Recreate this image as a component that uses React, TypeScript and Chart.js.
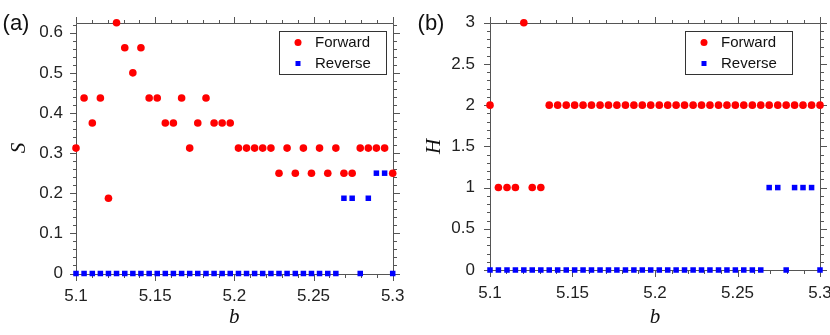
import React, { useEffect, useRef } from 'react';
import { Chart, registerables } from 'chart.js';

Chart.register(...registerables);

// b values (40 samples between 5.1 and 5.3)
const bValues = [
  5.1, 5.1051, 5.1103, 5.1154, 5.1205, 5.1256, 5.1308, 5.1359, 5.141, 5.1462,
  5.1513, 5.1564, 5.1615, 5.1667, 5.1718, 5.1769, 5.1821, 5.1872, 5.1923, 5.1974,
  5.2026, 5.2077, 5.2128, 5.2179, 5.2231, 5.2282, 5.2333, 5.2385, 5.2436, 5.2487,
  5.2538, 5.259, 5.2641, 5.2692, 5.2744, 5.2795, 5.2846, 5.2897, 5.2949, 5.3,
];

const sForward = [
  0.3125, 0.4375, 0.375, 0.4375, 0.1875, 0.625, 0.5625, 0.5, 0.5625, 0.4375,
  0.4375, 0.375, 0.375, 0.4375, 0.3125, 0.375, 0.4375, 0.375, 0.375, 0.375,
  0.3125, 0.3125, 0.3125, 0.3125, 0.3125, 0.25, 0.3125, 0.25, 0.3125, 0.25,
  0.3125, 0.25, 0.3125, 0.25, 0.25, 0.3125, 0.3125, 0.3125, 0.3125, 0.25,
];

const sReverse = [
  0, 0, 0, 0, 0, 0, 0, 0, 0, 0,
  0, 0, 0, 0, 0, 0, 0, 0, 0, 0,
  0, 0, 0, 0, 0, 0, 0, 0, 0, 0,
  0, 0, 0, 0.1875, 0.1875, 0, 0.1875, 0.25, 0.25, 0,
];

const hForward = [
  2, 1, 1, 1, 3, 1, 1, 2, 2, 2,
  2, 2, 2, 2, 2, 2, 2, 2, 2, 2,
  2, 2, 2, 2, 2, 2, 2, 2, 2, 2,
  2, 2, 2, 2, 2, 2, 2, 2, 2, 2,
];

const hReverse = [
  0, 0, 0, 0, 0, 0, 0, 0, 0, 0,
  0, 0, 0, 0, 0, 0, 0, 0, 0, 0,
  0, 0, 0, 0, 0, 0, 0, 0, 0, 0,
  0, 0, 0, 1, 1, 0, 1, 1, 1, 0,
];

const xMajorTicks = [5.1, 5.15, 5.2, 5.25, 5.3];
const xTickLabels = ['5.1', '5.15', '5.2', '5.25', '5.3'];
const sMajorTicks = [0, 0.1, 0.2, 0.3, 0.4, 0.5, 0.6];
const sTickLabels = ['0', '0.1', '0.2', '0.3', '0.4', '0.5', '0.6'];
const hMajorTicks = [0, 0.5, 1, 1.5, 2, 2.5, 3];
const hTickLabels = ['0', '0.5', '1', '1.5', '2', '2.5', '3'];

const SANS = '"Liberation Sans", Arial, Helvetica, sans-serif';
const SERIF = '"Liberation Serif", "Times New Roman", serif';
const AXIS_COLOR = '#555';
const TEXT_COLOR = '#222';

function labelFor(ticks: number[], labels: string[], v: number) {
  const i = ticks.findIndex((t) => Math.abs(t - v) < 1e-9);
  return i >= 0 ? labels[i] : '';
}

const decorPlugin = {
  id: 'decor',
  beforeDatasetsDraw(chart: any, _args: any, opts: any) {
    const { ctx, chartArea } = chart;
    const xs = chart.scales.x;
    const ys = chart.scales.y;
    const { left, right, top, bottom } = chartArea;
    ctx.save();
    ctx.strokeStyle = AXIS_COLOR;
    ctx.lineWidth = 1;
    const L = Math.round(left) + 0.5;
    const R = Math.round(right) + 0.5;
    const T = Math.round(top) + 0.5;
    const B = Math.round(bottom) + 0.5;
    ctx.beginPath();
    ctx.rect(L, T, R - L, B - T);
    ctx.stroke();
    const major = 6.5;
    const minor = 3.5;
    ctx.beginPath();
    // x ticks
    const nx = Math.round((xs.max - xs.min) / opts.minorX);
    for (let k = 0; k <= nx; k++) {
      const v = xs.min + k * opts.minorX;
      const isMajor = opts.xMajor.some((t: number) => Math.abs(t - v) < 1e-6);
      const len = isMajor ? major : minor;
      const px = Math.round(xs.getPixelForValue(v)) + 0.5;
      ctx.moveTo(px, B);
      ctx.lineTo(px, B + len);
      ctx.moveTo(px, T);
      ctx.lineTo(px, T - len);
    }
    // y ticks
    const ny = Math.floor((ys.max - ys.min) / opts.minorY + 1e-6);
    for (let k = 0; k <= ny; k++) {
      const v = ys.min + k * opts.minorY;
      const isMajor = opts.yMajor.some((t: number) => Math.abs(t - v) < 1e-6);
      const len = isMajor ? major : minor;
      const py = Math.round(ys.getPixelForValue(v)) + 0.5;
      ctx.moveTo(L, py);
      ctx.lineTo(L - len, py);
      ctx.moveTo(R, py);
      ctx.lineTo(R + len, py);
    }
    ctx.stroke();
    ctx.restore();
  },
  afterDraw(chart: any, _args: any, opts: any) {
    const { ctx } = chart;
    ctx.save();
    // panel label
    ctx.fillStyle = '#111';
    ctx.font = `22px ${SANS}`;
    ctx.textAlign = 'center';
    ctx.textBaseline = 'middle';
    ctx.fillText(opts.panelLabel, opts.labelX, opts.labelY);
    // legend box
    const bx = Math.round(opts.legendLeft) + 0.5;
    const by = Math.round(opts.legendTop) + 0.5;
    ctx.fillStyle = '#fff';
    ctx.fillRect(bx, by, opts.legendWidth, opts.legendHeight);
    ctx.strokeStyle = '#333';
    ctx.lineWidth = 1;
    ctx.strokeRect(bx, by, opts.legendWidth, opts.legendHeight);
    ctx.font = `15px ${SANS}`;
    ctx.textAlign = 'left';
    chart.data.datasets.forEach((ds: any, i: number) => {
      const cy = opts.legendTop + 11.5 + i * 21;
      const cx = opts.legendLeft + 19;
      ctx.fillStyle = ds.backgroundColor;
      if (ds.pointStyle === 'rect') {
        ctx.fillRect(cx - 2.5, cy - 2.5, 5, 5);
      } else {
        ctx.beginPath();
        ctx.arc(cx, cy, 3.5, 0, Math.PI * 2);
        ctx.fill();
      }
      ctx.fillStyle = '#111';
      ctx.fillText(ds.label, opts.legendLeft + 36, cy + 0.5);
    });
    ctx.restore();
  },
};

function makeConfig(p: {
  forward: number[];
  reverse: number[];
  yMax: number;
  yMajor: number[];
  yLabels: string[];
  yTitle: string;
  minorY: number;
  yWidth: number;
  xHeight: number;
  padRight: number;
  yPad: number;
  panelLabel: string;
  legendLeft: number;
}) {
  return {
    type: 'scatter' as const,
    data: {
      datasets: [
        {
          label: 'Forward',
          data: bValues.map((b, i) => ({ x: b, y: p.forward[i] })),
          pointStyle: 'circle',
          pointRadius: 3.8,
          pointHoverRadius: 3.8,
          backgroundColor: '#ff0000',
          pointBorderWidth: 0,
          borderWidth: 0,
          showLine: false,
          clip: false,
        },
        {
          label: 'Reverse',
          data: bValues.map((b, i) => ({ x: b, y: p.reverse[i] })),
          pointStyle: 'rect',
          pointRadius: 3.9,
          pointHoverRadius: 3.9,
          backgroundColor: '#0000ff',
          pointBorderWidth: 0,
          borderWidth: 0,
          showLine: false,
          clip: false,
        },
      ],
    },
    options: {
      responsive: false,
      animation: false,
      events: [],
      layout: { padding: { left: 0, right: p.padRight, top: 22.7, bottom: 0 } },
      scales: {
        x: {
          type: 'linear',
          min: 5.1,
          max: 5.3,
          afterBuildTicks: (s: any) => {
            s.ticks = xMajorTicks.map((v) => ({ value: v }));
          },
          afterFit: (s: any) => {
            s.height = p.xHeight;
            s.paddingLeft = 0;
            s.paddingRight = 0;
          },
          ticks: {
            autoSkip: false,
            maxRotation: 0,
            padding: 13,
            color: TEXT_COLOR,
            font: { family: SANS, size: 17 },
            callback: (v: number) => labelFor(xMajorTicks, xTickLabels, v),
          },
          grid: { display: false, drawTicks: false },
          border: { display: false },
          title: {
            display: true,
            text: 'b',
            color: '#111',
            font: { family: SERIF, size: 21, style: 'italic' },
            padding: { top: 0, bottom: 5 },
          },
        },
        y: {
          type: 'linear',
          min: 0,
          max: p.yMax,
          afterBuildTicks: (s: any) => {
            s.ticks = p.yMajor.map((v) => ({ value: v }));
          },
          afterFit: (s: any) => {
            s.width = p.yWidth;
            s.paddingTop = 0;
            s.paddingBottom = 0;
          },
          ticks: {
            autoSkip: false,
            padding: p.yPad,
            color: TEXT_COLOR,
            font: { family: SANS, size: 17 },
            callback: (v: number) => labelFor(p.yMajor, p.yLabels, v),
          },
          grid: { display: false, drawTicks: false },
          border: { display: false },
          title: {
            display: true,
            text: p.yTitle,
            color: '#111',
            font: { family: SERIF, size: 21, style: 'italic' },
            padding: { top: 7, bottom: 0 },
          },
        },
      },
      plugins: {
        legend: { display: false },
        tooltip: { enabled: false },
        decor: {
          panelLabel: p.panelLabel,
          labelX: 16,
          labelY: 24,
          legendLeft: p.legendLeft,
          legendTop: 31,
          legendWidth: 107,
          legendHeight: 43,
          minorX: 0.01,
          minorY: p.minorY,
          xMajor: xMajorTicks,
          yMajor: p.yMajor,
        },
      },
    },
    plugins: [decorPlugin],
  };
}

function Panel({ left, config }: { left: number; config: any }) {
  const ref = useRef<HTMLCanvasElement | null>(null);
  useEffect(() => {
    if (!ref.current) return;
    const chart = new Chart(ref.current, config);
    return () => chart.destroy();
  }, []);
  return (
    <canvas
      ref={ref}
      width={415}
      height={335}
      style={{ position: 'absolute', left, top: 0, width: 415, height: 335 }}
    />
  );
}

export default function App() {
  const cfgA = makeConfig({
    forward: sForward,
    reverse: sReverse,
    yMax: 0.625,
    yMajor: sMajorTicks,
    yLabels: sTickLabels,
    yTitle: 'S',
    minorY: 0.02,
    yWidth: 76,
    xHeight: 61.5,
    padRight: 22.3,
    yPad: 13,
    panelLabel: '(a)',
    legendLeft: 279,
  });
  const cfgB = makeConfig({
    forward: hForward,
    reverse: hReverse,
    yMax: 3,
    yMajor: hMajorTicks,
    yLabels: hTickLabels,
    yTitle: 'H',
    minorY: 0.1,
    yWidth: 75,
    xHeight: 65,
    padRight: 10,
    yPad: 15,
    panelLabel: '(b)',
    legendLeft: 270,
  });
  return (
    <div style={{ position: 'absolute', left: 0, top: 0, width: 830, height: 335, background: '#fff' }}>
      <Panel left={0} config={cfgA} />
      <Panel left={415} config={cfgB} />
    </div>
  );
}
